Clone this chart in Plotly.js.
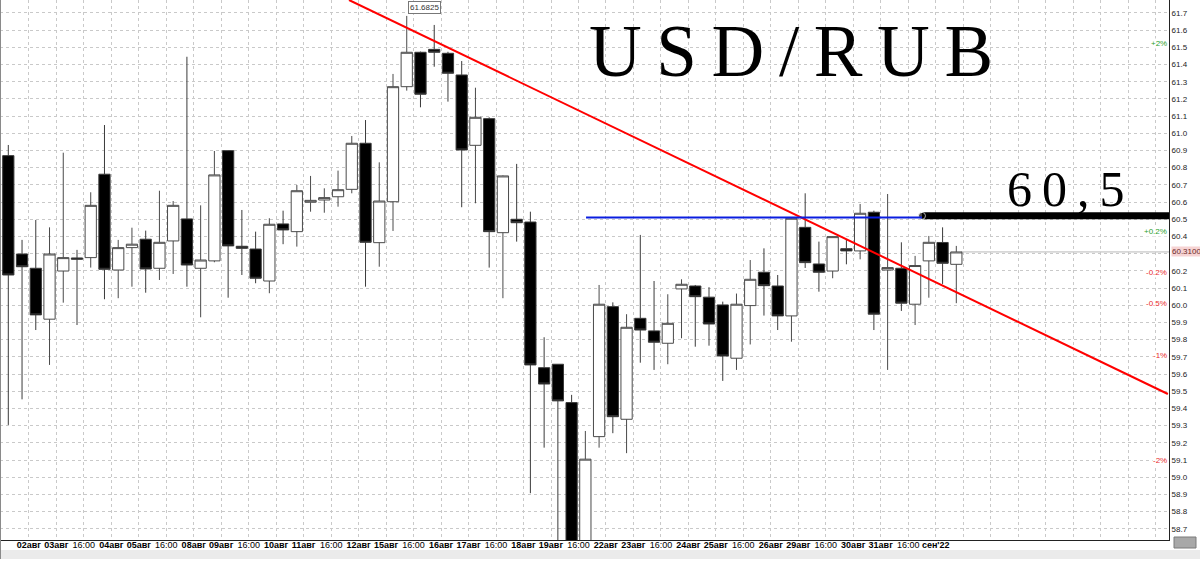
<!DOCTYPE html>
<html><head><meta charset="utf-8">
<script src="https://cdn.plot.ly/plotly-3.0.1.min.js"></script>
<style>html,body{margin:0;padding:0;background:#fff;}#chart{width:1200px;height:561px;}</style>
</head><body><div id="chart"></div>
<script>
// ---- data ----
const openVals = [60.870,60.298,60.215,59.919,60.199,60.275,60.277,60.762,60.205,60.335,
  60.384,60.215,60.374,60.502,60.215,60.258,60.899,60.343,60.327,60.141,
  60.473,60.428,60.599,60.612,60.631,60.674,60.942,60.364,60.602,61.271,
  61.471,61.488,61.465,61.339,60.930,61.085,60.422,60.500,60.484,59.637,
  59.657,59.434,58.520,59.236,59.992,59.337,59.924,59.851,59.779,60.095,
  60.112,60.047,60.002,59.692,59.998,60.192,60.112,59.938,60.453,60.240,
  60.199,60.329,60.316,60.541,60.205,60.215,60.006,60.258,60.365,60.238];
const highVals = [60.932,60.380,60.496,60.453,60.887,60.322,60.657,61.048,60.380,60.451,
  60.434,60.666,60.606,61.445,60.581,60.897,60.899,60.554,60.428,60.506,
  60.550,60.699,60.752,60.680,60.783,60.984,61.077,60.831,61.345,61.6825,
  61.475,61.630,61.474,61.420,61.265,61.093,60.755,60.822,60.544,59.814,
  59.657,59.479,59.269,60.118,60.017,59.948,60.409,60.141,60.064,60.151,
  60.118,60.105,60.021,60.068,60.263,60.331,60.176,60.510,60.651,60.370,
  60.400,60.384,60.589,60.550,60.647,60.366,60.287,60.403,60.453,60.345];
const lowVals = [59.304,59.453,59.856,59.653,60.015,59.885,60.219,60.035,60.041,60.108,
  60.073,60.147,60.182,60.108,59.930,60.250,60.044,60.176,60.128,60.070,
  60.355,60.341,60.544,60.538,60.573,60.651,60.108,60.224,60.432,61.248,
  61.151,61.387,61.184,60.570,60.593,60.219,60.041,60.370,58.907,59.172,
  58.550,58.450,58.480,59.172,59.256,59.140,59.666,59.624,59.657,59.808,
  59.759,59.765,59.560,59.624,59.772,59.940,59.856,59.788,60.217,60.079,
  60.157,60.238,60.267,59.856,59.624,59.967,59.885,60.044,60.124,60.012];
const closeVals = [60.176,60.224,59.944,60.298,60.277,60.268,60.581,60.209,60.335,60.355,
  60.211,60.366,60.581,60.234,60.263,60.758,60.345,60.331,60.157,60.471,
  60.438,60.666,60.610,60.626,60.672,60.942,60.366,60.606,61.271,61.471,
  61.227,61.471,61.349,60.903,61.093,60.428,60.752,60.480,59.653,59.542,
  59.444,58.500,59.105,60.006,59.352,59.872,59.856,59.785,59.895,60.122,
  60.050,59.891,59.705,60.006,60.151,60.114,59.938,60.506,60.248,60.192,
  60.399,60.316,60.535,59.948,60.219,60.012,60.231,60.366,60.244,60.310];
const xLabels = ['02авг','03авг','16:00','04авг','05авг','16:00','08авг','09авг','16:00',
  '10авг','11авг','16:00','12авг','15авг','16:00','16авг','17авг','16:00','18авг','19авг',
  '16:00','22авг','23авг','16:00','24авг','25авг','16:00','26авг','29авг','16:00',
  '30авг','31авг','16:00','сен\'22'];
const titleText = 'USD/RUB';
const levelText = '60,5';
const maxIndex = 29, maxLabel = '61.6825', maxValue = 61.6825;
const lastPrice = 60.31, lastPriceLabel = '60.3100';
const trendX = [24.8, 84.4], trendY = [61.775, 59.484];
const resistX = [42.05, 66.5], resistY = [60.51, 60.51];
const levelX = [66.5, 84.8], levelY = [60.52, 60.52];
const pctLabels = ['+2%', '+0.2%', '-0.2%', '-0.5%', '-1%', '-2%'];
const pctLevels = [61.52, 60.43, 60.19, 60.01, 59.71, 59.10];

// ---- layout helpers ----
const W = 1200, H = 561, ML = 0, MR = 31, MT = 0, MB = 21;
const PW = W - ML - MR, PH = H - MT - MB;
const px = v => v / PW;            // pixel x -> paper
const py = v => 1 - v / PH;        // pixel y -> paper
const xIdx = openVals.map((_, i) => i);

const tickVals = [], tickText = [];
for (let k = 0; k < 42; k++) {
  tickVals.push(1.5 + 2 * k);
  const lbl = xLabels[k];
  tickText.push(lbl === undefined ? '' : (lbl === '16:00' ? lbl : '<b>' + lbl + '</b>'));
}
// y ticks every 0.1; the label nearest the last price is replaced by the price tag
const yTickVals = [], yTickText = [];
for (let k = 587; k <= 617; k++) {
  const v = k / 10;
  yTickVals.push(v);
  yTickText.push(Math.abs(v - lastPrice) < 0.05 ? '' : v.toFixed(1));
}
const spaced = s => s.split('').join('\u2009');
const narrow = 'Liberation Sans Narrow, Arial Narrow, Liberation Sans, Arial, sans-serif';

const candles = {
  type: 'candlestick', x: xIdx, open: openVals, high: highVals, low: lowVals, close: closeVals,
  increasing: { line: { color: '#4a4a4a', width: 1 }, fillcolor: '#ffffff' },
  decreasing: { line: { color: '#3a3a3a', width: 1 }, fillcolor: '#000000' },
  whiskerwidth: 0, hoverinfo: 'skip', showlegend: false
};
const levelLine = {
  type: 'scatter', mode: 'lines+markers', x: levelX, y: levelY,
  line: { color: '#000', width: 7 }, marker: { color: '#000', size: [7, 0] },
  hoverinfo: 'skip', showlegend: false
};

const shapes = [
  { type: 'line', xref: 'x', yref: 'y', x0: trendX[0], x1: trendX[1], y0: trendY[0], y1: trendY[1],
    line: { color: '#ff0000', width: 2 } },
  { type: 'line', xref: 'x', yref: 'y', x0: resistX[0], x1: resistX[1], y0: resistY[0], y1: resistY[1],
    line: { color: '#0a1ee0', width: 2 } },
  { type: 'line', xref: 'x', yref: 'y', x0: xIdx.length - 1 + 0.35, x1: 84.5, y0: lastPrice, y1: lastPrice,
    line: { color: '#b8b8b8', width: 1 }, layer: 'below' },
  { type: 'rect', xref: 'paper', yref: 'paper', x0: 0, x1: px(W), y0: py(550), y1: py(559),
    fillcolor: '#ebebeb', line: { width: 0 } },
  { type: 'rect', xref: 'paper', yref: 'paper', x0: px(1174), x1: px(1196), y0: py(537), y1: py(548),
    fillcolor: '#a8a8a8', line: { color: '#7a7a7a', width: 1 } },
  { type: 'line', xref: 'paper', yref: 'paper', x0: px(0.5), x1: px(0.5), y0: py(559), y1: 1,
    line: { color: '#8a8a8a', width: 1 } }
];

const annotations = [
  { xref: 'paper', yref: 'paper', x: px(791), y: py(51), xanchor: 'center', yanchor: 'middle',
    text: spaced(titleText), showarrow: false,
    font: { family: 'Liberation Serif, Times New Roman, serif', size: 73, color: '#000' } },
  { xref: 'paper', yref: 'paper', x: px(1066), y: py(189), xanchor: 'center', yanchor: 'middle',
    text: spaced(levelText), showarrow: false,
    font: { family: 'Liberation Serif, Times New Roman, serif', size: 50, color: '#000' } },
  { xref: 'x', yref: 'y', x: maxIndex, y: maxValue, xanchor: 'left', yanchor: 'bottom',
    xshift: 1, yshift: 2, text: maxLabel, showarrow: false, bgcolor: '#fff',
    bordercolor: '#777', borderwidth: 1, borderpad: 1,
    font: { family: 'Liberation Sans, Arial, sans-serif', size: 8, color: '#333' } },
  { xref: 'paper', yref: 'y', x: px(1170.5), y: lastPrice, xanchor: 'left', yanchor: 'middle',
    text: lastPriceLabel, showarrow: false, bgcolor: '#f6d3d3', borderpad: 0,
    font: { family: narrow, size: 8, color: '#6b2a2a' } }
];
pctLabels.forEach((t, k) => {
  annotations.push({ xref: 'paper', yref: 'y', x: px(1168), y: pctLevels[k], xanchor: 'right',
    yanchor: 'middle', text: t, showarrow: false, bgcolor: '#fff', borderpad: 0,
    font: { family: narrow, size: 8, color: t[0] === '+' ? '#2aa02a' : '#e82a2a' } });
});

const layout = {
  width: W, height: H, margin: { l: ML, r: MR, t: MT, b: MB, pad: 0 },
  paper_bgcolor: '#fff', plot_bgcolor: '#fff', showlegend: false, hovermode: false,
  boxgap: 0.1, boxgroupgap: 0.09,
  font: { family: 'Liberation Sans, Arial, sans-serif', size: 9, color: '#000' },
  xaxis: {
    range: [-0.604, 84.48], rangeslider: { visible: false }, fixedrange: true,
    tickmode: 'array', tickvals: tickVals, ticktext: tickText, ticks: '',
    showgrid: true, gridcolor: '#c9c9c9', griddash: '3px,3px', gridwidth: 1,
    showline: true, linecolor: '#222', linewidth: 1, zeroline: false,
    tickfont: { family: narrow, size: 9, color: '#000' },
    ticklabelstandoff: -4
  },
  yaxis: {
    side: 'right', range: [58.635, 61.775], fixedrange: true,
    tickmode: 'array', tickvals: yTickVals, ticktext: yTickText, ticks: '',
    showgrid: true, gridcolor: '#c9c9c9', griddash: '3px,3px', gridwidth: 1,
    showline: true, linecolor: '#222', linewidth: 1, zeroline: false,
    tickfont: { family: 'Liberation Sans, Arial, sans-serif', size: 8, color: '#222' },
    ticklabelstandoff: 0
  },
  shapes: shapes, annotations: annotations
};

Plotly.newPlot('chart', [candles, levelLine], layout, { displayModeBar: false, staticPlot: true });
</script>
</body></html>
